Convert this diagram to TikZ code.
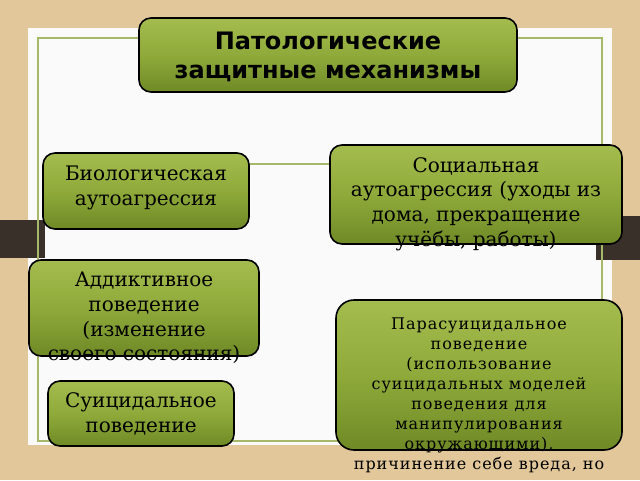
\documentclass[tikz,border=0pt]{standalone}
\usepackage{fontspec}
\setmainfont{DejaVu Serif}
\newfontfamily\titlefont{DejaVu Sans}
\newfontfamily\parafont[LetterSpace=6]{DejaVu Serif}
\begin{document}
\begin{tikzpicture}[x=1pt,y=-1pt,
  gbox/.style={draw=black,line width=1.6pt,rounded corners=12pt,top color=boxtop,bottom color=boxbot,middle color=boxmid},
  txt/.style={align=center,font=\fontsize{20}{24.8}\selectfont,text=black}]
\definecolor{wood}{HTML}{E2C79A}
\definecolor{boxtop}{HTML}{A4BC4E}
\definecolor{boxmid}{HTML}{8FAA3A}
\definecolor{boxbot}{HTML}{6F8A26}
\definecolor{frame}{HTML}{A6B96A}
\definecolor{bar}{HTML}{3A302A}
\useasboundingbox (0,0) rectangle (640,480);
\fill[wood] (0,0) rectangle (640,480);
\fill[white!96!gray] (28,28) rectangle (612,445);
\fill[bar] (0,220) rectangle (45,258);
\fill[bar] (596,216) rectangle (640,260);
\draw[frame,line width=1.5pt] (38,38) rectangle (602,441);
\coordinate (la) at (249,164); \coordinate (lb) at (330,164);
\draw[frame,line width=1.5pt] (la) -- (lb);
\node[gbox,minimum width=378,minimum height=74,inner sep=0] (t) at (328,55) {};
\node[align=center,font=\titlefont\bfseries\fontsize{24}{29}\selectfont] (tt) at (328,57) {Патологические\\защитные механизмы};
\node[gbox,minimum width=206,minimum height=76,inner sep=0] (b) at (146,191) {};
\node[txt] (bt) at (146,188) {Биологическая\\аутоагрессия};
\node[gbox,minimum width=292,minimum height=99,inner sep=0] (s) at (476,194.5) {};
\node[txt] (st) at (476,204) {Социальная\\аутоагрессия (уходы из\\дома, прекращение\\учёбы, работы)};
\node[gbox,minimum width=230,minimum height=96,inner sep=0] (a) at (144,308) {};
\node[txt] (at) at (144,318) {Аддиктивное\\поведение\\(изменение\\своего состояния)};
\node[gbox,minimum width=286,minimum height=150,inner sep=0,rounded corners=18pt] (p) at (479,375) {};
\node[align=center,font=\parafont\fontsize{16}{20}\selectfont,text=black] (pt) at (479,395) {Парасуицидальное\\поведение\\(использование\\суицидальных моделей\\поведения для\\манипулирования\\окружающими),\\причинение себе вреда, но};
\node[gbox,minimum width=186,minimum height=65,inner sep=0] (c) at (141,413.5) {};
\node[txt] (ct) at (141,414) {Суицидальное\\поведение};
\end{tikzpicture}
\end{document}
